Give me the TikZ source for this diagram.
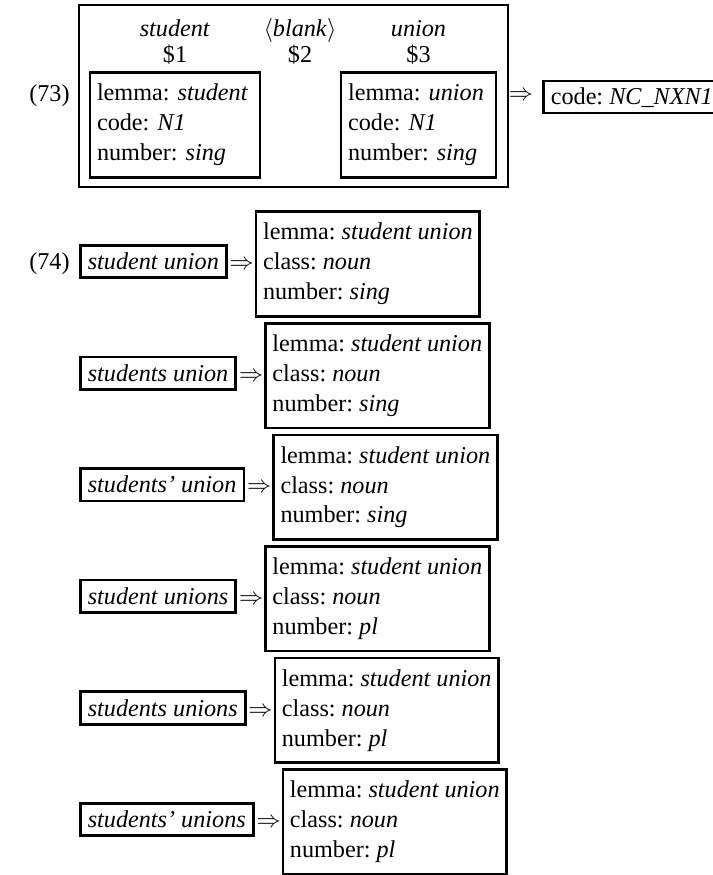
\documentclass[tikz,border=0pt]{standalone}
\usepackage{fontspec}
\setmainfont{Liberation Serif}
\usetikzlibrary{calc}
\begin{document}
\begin{tikzpicture}[x=0.454545pt,y=-0.454545pt,
  every node/.style={font=\fontsize{11pt}{13.6pt}\selectfont\frenchspacing},
  boxline/.style={draw,line width=1.2pt},
  outerframe/.style={boxline,inner sep=0pt,minimum width=195pt,minimum height=82.7pt},
  featbox/.style={boxline,align=left,inner xsep=3.2pt,inner ysep=0pt,minimum height=47.5pt},
  wordbox/.style={boxline,inner xsep=3.4pt,inner ysep=3.4pt,text height=7.7pt,text depth=0.3pt,anchor=west,
    font=\fontsize{11pt}{13.6pt}\selectfont\frenchspacing\itshape},
  codebox/.style={boxline,inner xsep=3.4pt,inner ysep=3.2pt,text height=7.7pt,text depth=0.6pt,anchor=west},
  yields/.style={inner sep=0pt},
  exno/.style={inner sep=0pt,anchor=base},
  head/.style={inner sep=0pt,anchor=base}
]
\useasboundingbox (0,0) rectangle (712,875);

% ---- example (73): rule with three slots ----
\node[exno] (n73) at (49.5,101) {(73)};
\node[outerframe] (rule) at (293.5,96) {};
\node[head] (w1) at (175,36) {\textit{student}};
\node[head] (d1) at (175,62) {\$1};
\node[head] (w2) at (300,36) {$\langle$\textit{blank}$\rangle$};
\node[head] (d2) at (300,62) {\$2};
\node[head] (w3) at (418.5,36) {\textit{union}};
\node[head] (d3) at (418.5,62) {\$3};
\node[featbox,text width=70.9pt] (slot1) at (175,125)
  {lemma: \textit{student}\\code: \textit{N1}\\number: \textit{sing}};
\node[featbox,text width=64pt] (slot3) at (418.5,125)
  {lemma: \textit{union}\\code: \textit{N1}\\number: \textit{sing}};
\node[yields] (a73) at (521,96) {$\Rightarrow$};
\node[codebox] (code) at (542,97) {code: \textit{NC\_NXN1}};

% ---- example (74): surface forms and their analyses ----
\node[exno] (n74) at (49.5,269.6) {(74)};
\foreach \i/\w/\n in {1/student union/sing,2/students union/sing,3/students' union/sing,
                      4/student unions/pl,5/students unions/pl,6/students' unions/pl}{
  \pgfmathsetmacro\cy{261.5+111.6*(\i-1)}
  \node[wordbox] (s\i) at (79,\cy) {\w};
  \node[yields,anchor=base] (a\i) at ($(s\i.base east)+(14,0)$) {$\Rightarrow$};
  \node[featbox,anchor=west] (f\i) at ($(s\i.east)+(27,2.5)$)
    {lemma: \textit{student union}\\class: \textit{noun}\\number: \textit{\n}};
}
\end{tikzpicture}
\end{document}
